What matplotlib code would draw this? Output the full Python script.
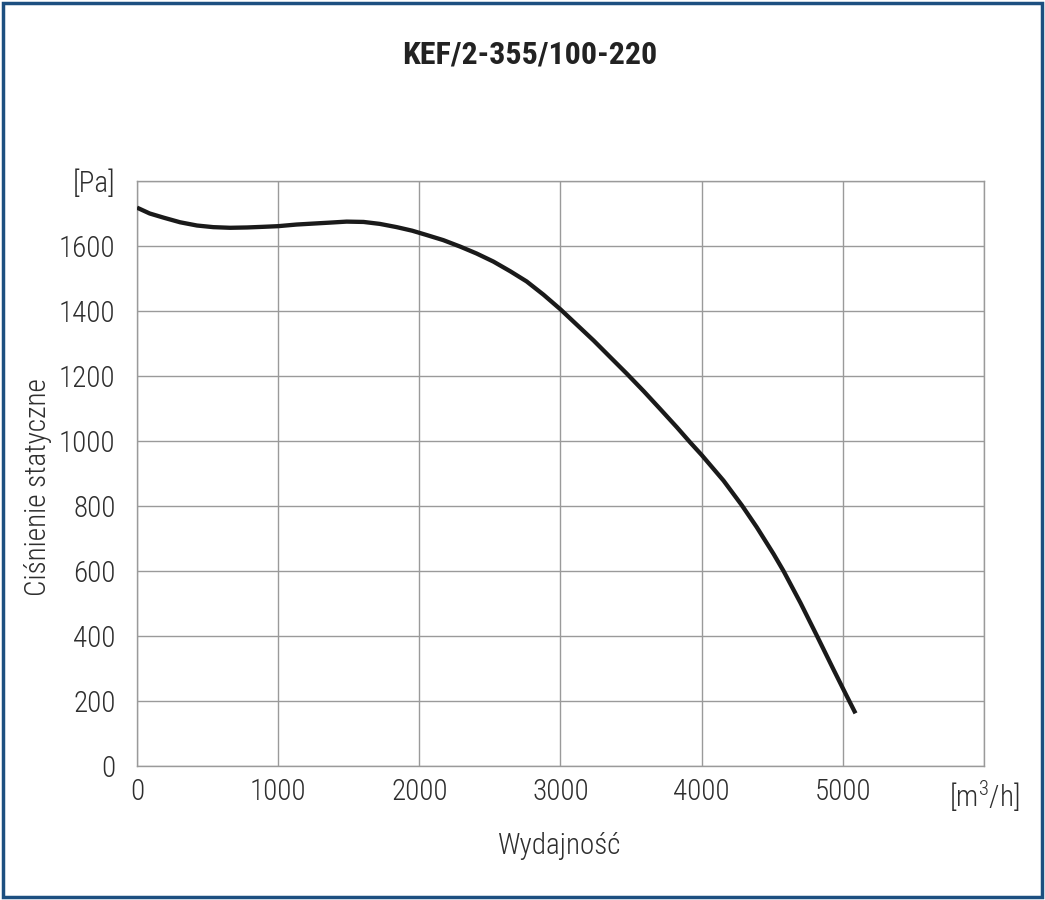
"""KEF/2-355/100-220 fan curve: static pressure vs airflow."""
import matplotlib
matplotlib.use("Agg")
import matplotlib.pyplot as plt
from matplotlib import font_manager
from matplotlib.patches import Rectangle

# airflow [m3/h] and static pressure [Pa]
flow = [0, 90, 190, 305, 425, 540, 660, 780, 895, 1000, 1130, 1250, 1370,
        1485, 1605, 1720, 1840, 1950, 2050, 2170, 2290, 2405, 2525, 2645,
        2760, 2880, 3000, 3115, 3235, 3350, 3470, 3590, 3705, 3825, 3920,
        4000, 4155, 4285, 4390, 4510, 4580, 4700, 4815, 4935, 5020, 5090]
pressure = [1718, 1700, 1687, 1673, 1663, 1658, 1656, 1657, 1659, 1661, 1666,
            1669, 1672, 1675, 1674, 1668, 1658, 1647, 1634, 1618, 1598, 1577,
            1552, 1522, 1491, 1450, 1405, 1358, 1309, 1259, 1207, 1153, 1099,
            1042, 995, 957, 878, 802, 735, 652, 600, 502, 402, 296, 222, 162]

x_ticks = [0, 1000, 2000, 3000, 4000, 5000, 6000]
x_labels = ["0", "1000", "2000", "3000", "4000", "5000", "[m$^3$/h]"]
y_ticks = [0, 200, 400, 600, 800, 1000, 1200, 1400, 1600, 1800]
y_labels = ["0", "200", "400", "600", "800", "1000", "1200", "1400", "1600", "[Pa]"]

TITLE = "KEF/2-355/100-220"
XLABEL = "Wydajność"
YLABEL = "Ciśnienie statyczne"

names = {f.name for f in font_manager.fontManager.ttflist}
FONT = "Roboto Condensed" if "Roboto Condensed" in names else "DejaVu Sans"
plt.rcParams["font.family"] = [FONT, "DejaVu Sans"]
plt.rcParams["mathtext.fontset"] = "custom"
plt.rcParams["mathtext.rm"] = FONT + ":light"

TXT = "#2e2e2e"
GRID = "#9a9a9a"

fig = plt.figure(figsize=(10.45, 9.0), dpi=100)
ax = fig.add_axes([0.1311, 0.1489, 0.8105, 0.65])

ax.plot(flow, pressure, color="#1a1a1a", lw=3.1, solid_capstyle="butt", zorder=3)

ax.set_xlim(0, 6000)
ax.set_ylim(0, 1800)
ax.set_xticks(x_ticks)
ax.set_xticklabels(x_labels, fontweight="light")
ax.set_yticks(y_ticks)
ax.set_yticklabels(y_labels, fontweight="light")
ax.tick_params(length=0, labelsize=21, colors=TXT)
ax.tick_params(axis="y", pad=15.5)
ax.tick_params(axis="x", pad=9)
ax.grid(True, color=GRID, lw=1.0)
for s in ax.spines.values():
    s.set_color(GRID)
    s.set_linewidth(1.0)

fig.text(0.507, 0.939, TITLE, ha="center", va="center", fontsize=23,
         fontweight="bold", color="#222222")
fig.text(0.536, 0.06, XLABEL, ha="center", va="center", fontsize=21,
         fontweight="light", color=TXT)
fig.text(0.036, 0.459, YLABEL, ha="center", va="center", rotation=90,
         fontsize=21, fontweight="light", color=TXT)

fig.patches.append(Rectangle((0.003, 0.003), 0.994, 0.994, transform=fig.transFigure,
                             fill=False, ec="#1c4f80", lw=2.5))

fig.savefig("out.png", dpi=100)
